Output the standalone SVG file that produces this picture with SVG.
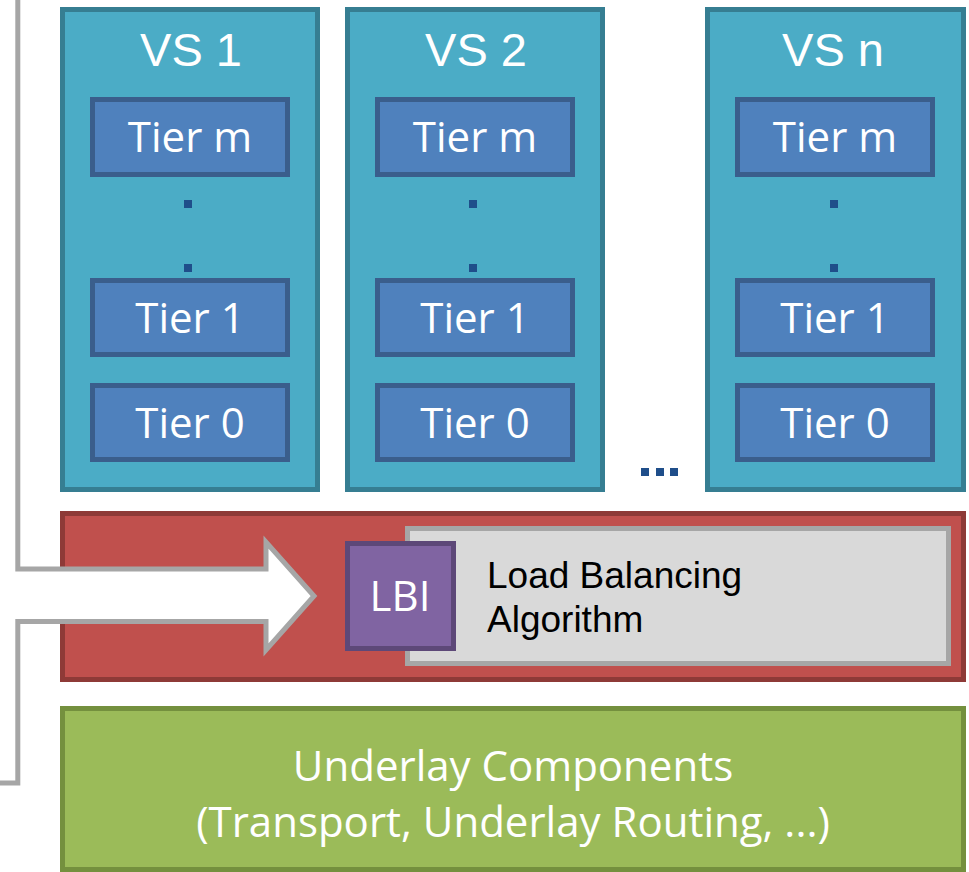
<svg xmlns="http://www.w3.org/2000/svg" width="969" height="872" viewBox="0 0 969 872">
  <style>
    .vs { fill: #4bacc6; stroke: #367e92; stroke-width: 5; }
    .tier { fill: #4f81bd; stroke: #3a5e8c; stroke-width: 5; }
    .dot { fill: #1f4e8a; }
    .head { font-family: "Liberation Sans", Arial, sans-serif; font-size: 47px; fill: #ffffff; text-anchor: middle; }
    .lbl { font-family: "Open Sans", "Noto Sans", sans-serif; font-size: 42px; fill: #ffffff; text-anchor: middle; }
    .algo { font-family: "Liberation Sans", Arial, sans-serif; font-size: 37px; fill: #000000; }
  </style>

  <!-- virtual services, each with its tier stack -->
  <g id="vs1">
    <rect class="vs" x="62.5" y="9.5" width="255" height="480"/>
    <text class="head" x="191" y="66">VS 1</text>
    <g id="vs1-tier-m"><rect class="tier" x="92.5" y="99.5" width="195" height="75"/><text class="lbl" x="190" y="152">Tier m</text></g>
    <rect class="dot" x="184" y="200" width="8" height="8"/>
    <rect class="dot" x="184" y="264" width="8" height="8"/>
    <g id="vs1-tier-1"><rect class="tier" x="92.5" y="280.5" width="195" height="74"/><text class="lbl" x="190" y="333">Tier 1</text></g>
    <g id="vs1-tier-0"><rect class="tier" x="92.5" y="385.5" width="195" height="74"/><text class="lbl" x="190" y="438">Tier 0</text></g>
  </g>

  <g id="vs2">
    <rect class="vs" x="347.5" y="9.5" width="255" height="480"/>
    <text class="head" x="476" y="66">VS 2</text>
    <g id="vs2-tier-m"><rect class="tier" x="377.5" y="99.5" width="195" height="75"/><text class="lbl" x="475" y="152">Tier m</text></g>
    <rect class="dot" x="469" y="200" width="8" height="8"/>
    <rect class="dot" x="469" y="264" width="8" height="8"/>
    <g id="vs2-tier-1"><rect class="tier" x="377.5" y="280.5" width="195" height="74"/><text class="lbl" x="475" y="333">Tier 1</text></g>
    <g id="vs2-tier-0"><rect class="tier" x="377.5" y="385.5" width="195" height="74"/><text class="lbl" x="475" y="438">Tier 0</text></g>
  </g>

  <!-- ellipsis between VS 2 and VS n -->
  <g id="more">
    <rect class="dot" x="641" y="468" width="8" height="8"/>
    <rect class="dot" x="656" y="468" width="8" height="8"/>
    <rect class="dot" x="670" y="468" width="8" height="8"/>
  </g>

  <g id="vsn">
    <rect class="vs" x="707.5" y="9.5" width="256" height="480"/>
    <text class="head" x="833" y="66">VS n</text>
    <g id="vsn-tier-m"><rect class="tier" x="737.5" y="99.5" width="195" height="75"/><text class="lbl" x="835" y="152">Tier m</text></g>
    <rect class="dot" x="830" y="200" width="8" height="8"/>
    <rect class="dot" x="830" y="264" width="8" height="8"/>
    <g id="vsn-tier-1"><rect class="tier" x="737.5" y="280.5" width="195" height="74"/><text class="lbl" x="835" y="333">Tier 1</text></g>
    <g id="vsn-tier-0"><rect class="tier" x="737.5" y="385.5" width="195" height="74"/><text class="lbl" x="835" y="438">Tier 0</text></g>
  </g>

  <!-- load balancing layer -->
  <g id="lb-layer">
    <rect x="62.5" y="513.5" width="901" height="166" fill="#c0504d" stroke="#8e3a37" stroke-width="5"/>
  </g>
  <g id="lb-algorithm">
    <rect x="407.5" y="528.5" width="541" height="135" fill="#d9d9d9" stroke="#a6a6a6" stroke-width="5"/>
    <text class="algo" x="487" y="588">Load Balancing</text>
    <text class="algo" x="487" y="632">Algorithm</text>
  </g>
  <g id="lbi">
    <rect x="347.5" y="543.5" width="106" height="105" fill="#8064a2" stroke="#5d4878" stroke-width="5"/>
    <text class="lbl" x="400" y="611" font-size="40">LBI</text>
  </g>

  <!-- underlay layer -->
  <g id="underlay">
    <rect x="62.5" y="708.5" width="901" height="161" fill="#9bbb59" stroke="#74903e" stroke-width="5"/>
    <text class="lbl" x="513" y="781">Underlay Components</text>
    <text class="lbl" x="513" y="837">(Transport, Underlay Routing, ...)</text>
  </g>

  <!-- connector: loop from the left edge into the LBI as a block arrow -->
  <g id="connectors">
    <polygon points="17.8,569 266,569 266,542 314,596 266,650 266,621.5 17.8,621.5" fill="#ffffff"/>
    <path d="M17.8 -5 V569 H266 V542 L314 596 L266 650 V621.5 H17.8 V783 H-5" fill="none" stroke="#a6a6a6" stroke-width="5" stroke-linejoin="miter"/>
  </g>
</svg>
